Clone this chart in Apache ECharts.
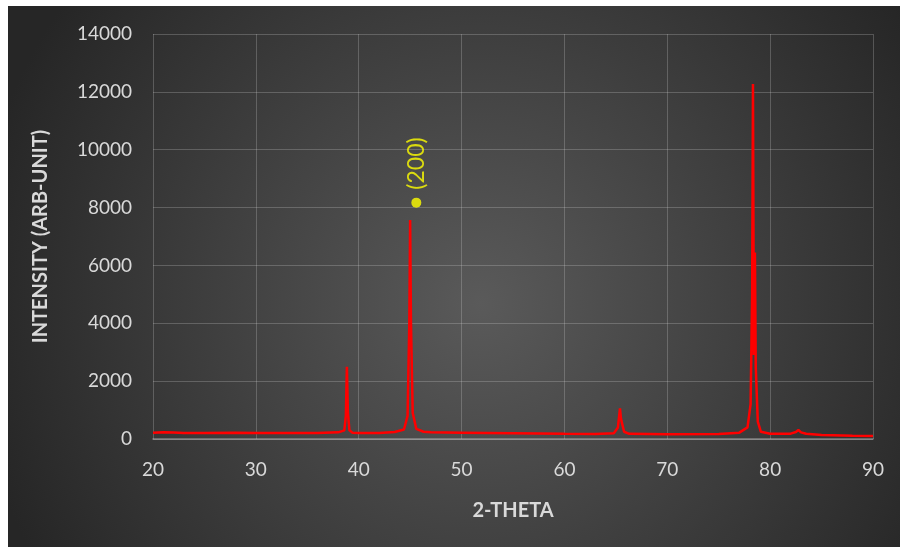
<!DOCTYPE html>
<html>
<head>
<meta charset="utf-8">
<script src="https://cdn.jsdelivr.net/npm/echarts@6/dist/echarts.min.js"></script>
<style>html,body{margin:0;padding:0;background:#fff}#c{width:900px;height:547px}</style>
</head>
<body>
<div id="c"></div>
<script>
// X-ray diffraction pattern (2-theta vs intensity)
const twoTheta = [20, 21, 22, 23, 25, 28, 30, 33, 36, 38, 38.6, 38.75, 38.85, 38.95, 39.1, 39.4, 40, 42, 43.5, 44.4, 44.75, 44.92, 45.0, 45.08, 45.25, 45.6, 46.3, 47, 50, 55, 60, 63, 64.8, 65.2, 65.4, 65.5, 65.6, 65.8, 66.3, 70, 75, 77, 77.8, 78.1, 78.25, 78.33, 78.42, 78.52, 78.6, 78.8, 79.1, 80, 82, 82.5, 82.75, 83, 83.5, 85, 88, 90];
const intensity = [220, 235, 225, 205, 210, 215, 205, 205, 210, 230, 300, 800, 2500, 900, 300, 220, 210, 210, 240, 330, 800, 4000, 7570, 4000, 900, 350, 250, 230, 220, 200, 180, 175, 200, 400, 1060, 700, 550, 250, 180, 165, 170, 220, 400, 1200, 5000, 12270, 2900, 6450, 2500, 600, 250, 180, 185, 240, 310, 230, 180, 140, 110, 100];
const xTicks = [20, 30, 40, 50, 60, 70, 80, 90];
const yTicks = [0, 2000, 4000, 6000, 8000, 10000, 12000, 14000];
const annotX = [45.6];
const annotY = [8170];
const annotLabel = ['(200)'];

const lineData = twoTheta.map((x, i) => [x, intensity[i]]);
const annotData = annotX.map((x, i) => ({ value: [x, annotY[i]], label: { formatter: annotLabel[i] } }));

const chart = echarts.init(document.getElementById('c'), null, { renderer: 'canvas' });
const font = 'Lato, "Open Sans", "Liberation Sans", sans-serif';
chart.setOption({
  backgroundColor: '#ffffff',
  animation: false,
  graphic: [{
    type: 'rect', z: -10, silent: true,
    shape: { x: 8, y: 6, width: 892, height: 541 },
    style: {
      fill: new echarts.graphic.RadialGradient(0.53, 0.55, 0.95, [
        { offset: 0, color: '#5a5a5a' },
        { offset: 1, color: '#262626' }
      ])
    }
  }],
  grid: { left: 153, right: 27, top: 34, bottom: 108, containLabel: false },
  xAxis: {
    type: 'value', min: xTicks[0], max: xTicks[xTicks.length - 1], interval: 10,
    name: '2-THETA', nameLocation: 'middle', nameGap: 62,
    nameTextStyle: { color: '#d9d9d9', fontSize: 20, fontWeight: 'bold', fontFamily: font },
    axisLine: { show: true, lineStyle: { color: 'rgba(217,217,217,0.45)', width: 1.5 } },
    axisTick: { show: false },
    axisLabel: { color: '#d9d9d9', fontSize: 19, fontFamily: font, margin: 21, formatter: v => String(v) },
    splitLine: { show: true, lineStyle: { color: 'rgba(217,217,217,0.25)', width: 1 } }
  },
  yAxis: {
    type: 'value', min: yTicks[0], max: yTicks[yTicks.length - 1], interval: 2000,
    name: 'INTENSITY (ARB-UNIT)', nameLocation: 'middle', nameGap: 102, nameRotate: 90,
    nameTextStyle: { color: '#d9d9d9', fontSize: 20, fontWeight: 'bold', fontFamily: font },
    axisLine: { show: false },
    axisTick: { show: false },
    axisLabel: { color: '#d9d9d9', fontSize: 19, fontFamily: font, margin: 21, formatter: v => String(v) },
    splitLine: { show: true, lineStyle: { color: 'rgba(217,217,217,0.25)', width: 1 } }
  },
  series: [{
    type: 'line', data: lineData, showSymbol: false, symbol: 'none',
    lineStyle: { color: '#ff0000', width: 2.5 }, z: 3
  }, {
    type: 'scatter', data: annotData, symbol: 'circle', symbolSize: 10,
    itemStyle: { color: '#ffff00' }, z: 4,
    label: {
      show: true, position: 'top', distance: 8, rotate: 90,
      align: 'left', verticalAlign: 'middle',
      color: '#ffff00', fontSize: 23, fontFamily: font
    }
  }]
});
</script>
</body>
</html>
